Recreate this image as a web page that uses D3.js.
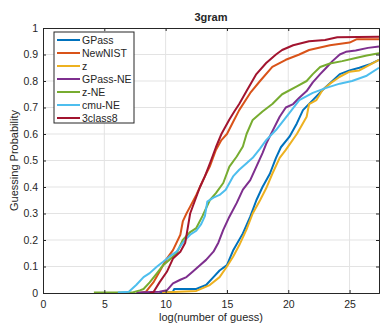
<!DOCTYPE html>
<html>
<head>
<meta charset="utf-8">
<script src="https://cdn.jsdelivr.net/npm/d3@7"></script>
<style>
body { margin: 0; background: #fff; }
text { font-family: "Liberation Sans", Arial, Helvetica, sans-serif; fill: #262626; }
</style>
</head>
<body>
<script>
// series names + colours (matlab default order)
var names = ['GPass', 'NewNIST', 'z', 'GPass-NE', 'z-NE', 'cmu-NE', '3class8']
var colors = ['#0072BD', '#D95319', '#EDB120', '#7E2F8E', '#77AC30', '#4DBEEE', '#A2142F']

var xTicks = [0, 5, 10, 15, 20, 25]
var yTicks = [0, 0.1, 0.2, 0.3, 0.4, 0.5, 0.6, 0.7, 0.8, 0.9, 1]

// [log(number of guess), guessing probability]
var gpass = [[9.5,0.003],[10.6,0.005],[10.7,0.015],[12.5,0.015],[13.0,0.025],[13.3,0.03],[13.9,0.06],[14.4,0.085],[15.0,0.105],[15.5,0.16],[16.3,0.225],[16.9,0.288],[17.4,0.35],[17.9,0.4],[18.5,0.45],[19.0,0.51],[19.4,0.55],[20.1,0.59],[20.7,0.64],[21.2,0.69],[22.0,0.728],[22.8,0.766],[23.6,0.8],[24.2,0.826],[25.0,0.84],[25.8,0.85],[26.6,0.862],[27.4,0.88]]
var newnist = [[7.9,0],[8.4,0.005],[9.0,0.04],[9.5,0.08],[10.1,0.13],[10.6,0.162],[11.2,0.22],[11.4,0.27],[11.7,0.3],[12.0,0.326],[12.5,0.37],[12.8,0.4],[13.2,0.44],[13.6,0.477],[14.1,0.54],[14.55,0.577],[15.0,0.6],[15.5,0.645],[16.0,0.69],[16.9,0.755],[17.7,0.8],[18.7,0.853],[19.8,0.88],[20.9,0.9],[21.7,0.917],[23.4,0.935],[25.0,0.945],[25.6,0.958],[27.4,0.958]]
var z = [[9.7,0.002],[12.5,0.008],[13.6,0.03],[14.4,0.06],[15.0,0.1],[15.5,0.137],[16.0,0.18],[16.6,0.24],[17.1,0.3],[17.7,0.35],[18.2,0.395],[18.7,0.45],[19.3,0.51],[19.8,0.54],[20.7,0.6],[21.5,0.665],[21.7,0.713],[22.3,0.728],[22.8,0.766],[23.4,0.79],[24.2,0.816],[25.0,0.835],[25.8,0.84],[26.6,0.86],[27.4,0.88]]
var gpassNE = [[7.6,0.002],[9.5,0.005],[10.1,0.01],[10.6,0.036],[11.2,0.05],[11.7,0.06],[12.2,0.08],[12.8,0.105],[13.3,0.125],[13.9,0.156],[14.3,0.19],[14.7,0.238],[15.2,0.288],[15.8,0.34],[16.3,0.39],[16.9,0.426],[17.4,0.477],[17.9,0.528],[18.2,0.563],[18.7,0.61],[19.3,0.665],[19.8,0.7],[20.4,0.713],[20.9,0.737],[21.5,0.762],[22.0,0.795],[22.6,0.826],[23.1,0.85],[23.6,0.875],[24.2,0.9],[24.7,0.91],[25.5,0.915],[26.5,0.925],[27.4,0.93]]
var zNE = [[4.15,0.002],[7.3,0.002],[7.9,0.01],[8.2,0.015],[8.7,0.04],[9.3,0.075],[9.8,0.105],[10.3,0.125],[10.9,0.15],[11.4,0.2],[12.0,0.23],[12.5,0.245],[13.0,0.29],[13.6,0.35],[14.1,0.377],[14.7,0.415],[15.2,0.477],[15.8,0.515],[16.3,0.553],[16.6,0.6],[17.1,0.653],[17.9,0.685],[18.7,0.713],[19.5,0.75],[20.7,0.78],[21.5,0.8],[22.0,0.826],[22.6,0.853],[23.4,0.866],[24.4,0.875],[25.5,0.887],[26.4,0.896],[27.4,0.905]]
var cmuNE = [[6.1,0.002],[7.0,0.005],[7.6,0.03],[8.2,0.06],[8.7,0.075],[9.3,0.1],[9.8,0.118],[10.3,0.137],[10.9,0.156],[11.4,0.19],[12.0,0.22],[12.5,0.235],[12.9,0.26],[13.2,0.29],[13.4,0.345],[13.9,0.36],[14.4,0.37],[14.9,0.39],[15.5,0.44],[16.0,0.465],[16.6,0.49],[17.1,0.51],[17.7,0.545],[18.2,0.577],[19.0,0.615],[20.1,0.68],[20.9,0.728],[22.0,0.755],[23.1,0.774],[24.2,0.79],[25.2,0.8],[26.4,0.82],[27.4,0.85]]
var class3_8 = [[8.7,0],[9.0,0.003],[9.5,0.04],[10.1,0.08],[10.6,0.13],[11.2,0.156],[11.6,0.19],[11.8,0.245],[12.0,0.3],[12.4,0.35],[12.8,0.4],[13.2,0.44],[13.7,0.5],[14.1,0.55],[14.55,0.6],[15.2,0.655],[15.6,0.685],[16.0,0.713],[16.6,0.762],[17.4,0.826],[18.2,0.868],[19.0,0.9],[19.5,0.917],[20.4,0.935],[21.7,0.95],[23.0,0.955],[24.0,0.965],[27.4,0.967]]

var series = [gpass, newnist, z, gpassNE, zNE, cmuNE, class3_8]

var W = 381, H = 324
var mLeft = 43, mRight = 379, mTop = 28, mBottom = 293

var svg = d3.select('body').append('svg')
	.attr('width', W)
	.attr('height', H)

var x = d3.scaleLinear().domain([0, 27.4]).range([mLeft, mRight])
var y = d3.scaleLinear().domain([0, 1]).range([mBottom, mTop])

// grid
svg.append('g').selectAll('line').data(xTicks.slice(1)).join('line')
	.attr('x1', d => x(d)).attr('x2', d => x(d))
	.attr('y1', mTop).attr('y2', mBottom)
	.attr('stroke', '#e3e3e3').attr('stroke-width', 1)
svg.append('g').selectAll('line').data(yTicks.slice(1, -1)).join('line')
	.attr('x1', mLeft).attr('x2', mRight)
	.attr('y1', d => y(d)).attr('y2', d => y(d))
	.attr('stroke', '#e3e3e3').attr('stroke-width', 1)

// curves
var line = d3.line().x(d => x(d[0])).y(d => y(d[1]))
var plot = svg.append('g')
plot.selectAll('path').data(series).join('path')
	.attr('d', line)
	.attr('fill', 'none')
	.attr('stroke', (d, i) => colors[i])
	.attr('stroke-width', 2)
	.attr('stroke-linejoin', 'round')

// axes (ticks inward, box)
svg.append('g')
	.attr('transform', 'translate(0,' + mBottom + ')')
	.call(d3.axisBottom(x).tickValues(xTicks).tickSize(-3).tickPadding(8))
svg.append('g')
	.attr('transform', 'translate(' + mLeft + ',0)')
	.call(d3.axisLeft(y).tickValues(yTicks).tickSize(-3).tickPadding(5).tickFormat(d3.format('')))
svg.append('g')
	.attr('transform', 'translate(0,' + mTop + ')')
	.call(d3.axisTop(x).tickValues(xTicks).tickSize(-3).tickFormat(''))
svg.append('g')
	.attr('transform', 'translate(' + mRight + ',0)')
	.call(d3.axisRight(y).tickValues(yTicks).tickSize(-3).tickFormat(''))

svg.selectAll('.domain').attr('stroke', '#262626').attr('stroke-width', 1)
svg.selectAll('.tick line').attr('stroke', '#262626')
svg.selectAll('.tick text').style('font-size', '10.5px').attr('fill', '#262626')

// titles
svg.append('text')
	.attr('x', (mLeft + mRight) / 2).attr('y', 21)
	.attr('text-anchor', 'middle')
	.style('font-size', '11px').style('font-weight', 'bold')
	.text('3gram')
svg.append('text')
	.attr('x', (mLeft + mRight) / 2).attr('y', 321)
	.attr('text-anchor', 'middle')
	.style('font-size', '11px')
	.text('log(number of guess)')
svg.append('text')
	.attr('transform', 'translate(18,' + (mTop + mBottom) / 2 + ') rotate(-90)')
	.attr('text-anchor', 'middle')
	.style('font-size', '11px')
	.text('Guessing Probability')

// legend
var legend = svg.append('g').attr('transform', 'translate(54,32)')
legend.append('rect')
	.attr('width', 80).attr('height', 91)
	.attr('fill', '#fff').attr('stroke', '#262626').attr('stroke-width', 1)
var item = legend.selectAll('g.item').data(names).join('g')
	.attr('class', 'item')
	.attr('transform', (d, i) => 'translate(0,' + (8 + i * 13) + ')')
item.append('line')
	.attr('x1', 3).attr('x2', 26)
	.attr('stroke', (d, i) => colors[i]).attr('stroke-width', 2)
item.append('text')
	.attr('x', 28).attr('dy', '0.35em')
	.style('font-size', '10.5px')
	.text(d => d)
</script>
</body>
</html>
